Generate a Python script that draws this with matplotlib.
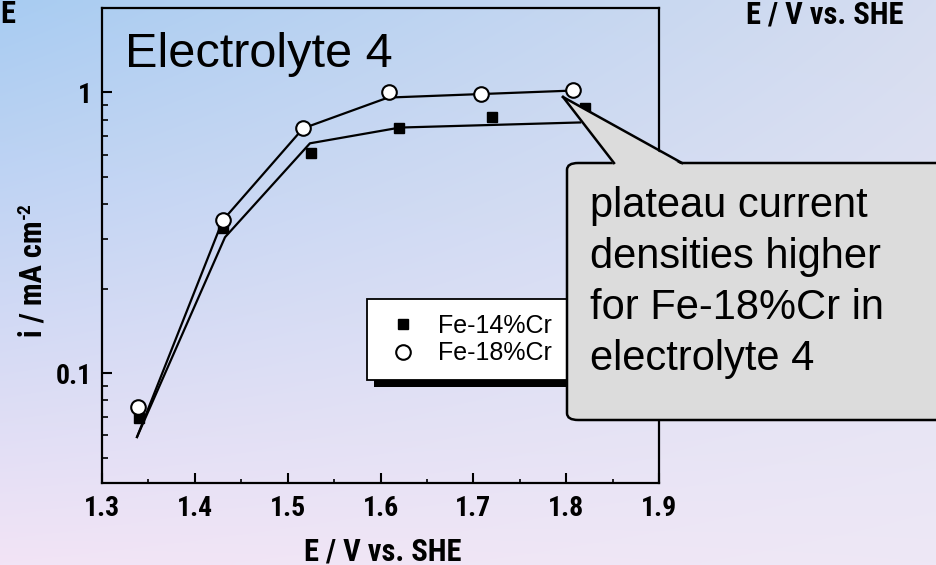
import os
import numpy as np
import matplotlib.pyplot as plt
from matplotlib import font_manager
from matplotlib.font_manager import FontProperties
from matplotlib.patches import FancyBboxPatch, Polygon
from matplotlib.lines import Line2D
import matplotlib.patheffects as pe
from matplotlib.ticker import LogLocator, NullFormatter, MultipleLocator

plt.rcParams['font.family'] = ['Liberation Sans', 'DejaVu Sans']

# look for a condensed bold face for the axis texts
wanted = ['LiberationSansNarrow-Bold', 'RobotoCondensed-Bold', 'DejaVuSansCondensed-Bold',
          'OpenSans_Condensed-Bold', 'OpenSansCondensed-Bold']
files = {os.path.splitext(os.path.basename(f.fname))[0]: f.fname for f in font_manager.fontManager.ttflist}
narrow_file = None
for w in wanted:
    if w in files:
        narrow_file = files[w]
        break
if narrow_file:
    nscale = 1.0
    def nfont(size):
        return FontProperties(fname=narrow_file, size=size)
else:
    nscale = 0.86
    def nfont(size):
        return FontProperties(family='Liberation Sans', weight='bold', size=size)

# measured points
e14 = [1.34, 1.43, 1.525, 1.62, 1.72, 1.82]
i14 = [0.069, 0.33, 0.61, 0.75, 0.815, 0.877]
e18 = [1.339, 1.43, 1.516, 1.609, 1.708, 1.807]
i18 = [0.0757, 0.35, 0.745, 1.0, 0.99, 1.02]

# fitted lines (polylines)
fit14_e = [1.3377, 1.4325, 1.524, 1.621, 1.815]
fit14_i = [0.0592, 0.305, 0.659, 0.75, 0.782]
fit18_e = [1.3377, 1.430, 1.5166, 1.608, 1.8075]
fit18_i = [0.0592, 0.350, 0.745, 0.959, 1.016]

xticks = [1.3, 1.4, 1.5, 1.6, 1.7, 1.8, 1.9]
yticks = [0.1, 1]
ytick_labels = ['0.1', '1']

note_lines = ['plateau current', 'densities higher', 'for Fe-18%Cr in', 'electrolyte 4']

W, H = 936, 565
fig = plt.figure(figsize=(W / 100, H / 100), dpi=100)

# gradient background
bg = fig.add_axes([0, 0, 1, 1], zorder=-5)
tl = np.array([168, 204, 242]) / 255
tr = np.array([214, 221, 240]) / 255
bl = np.array([242, 228, 246]) / 255
br = np.array([238, 232, 246]) / 255
u = np.linspace(0, 1, 200)[None, :, None]
v = np.linspace(0, 1, 120)[:, None, None]
img = (1 - v) * ((1 - u) * tl + u * tr) + v * ((1 - u) * bl + u * br)
bg.imshow(img, aspect='auto', extent=[0, 1, 0, 1], interpolation='bilinear')
bg.axis('off')

ax = fig.add_axes([102 / W, 1 - 483 / H, 557 / W, 475 / H])
ax.patch.set_alpha(0)

ax.plot(fit14_e, fit14_i, color='k', lw=1.6, zorder=3)
ax.plot(fit18_e, fit18_i, color='k', lw=1.6, zorder=3)
ax.plot(e14, i14, ls='none', marker='s', ms=7.5, mfc='k', mec='k', zorder=4, label='Fe-14%Cr')
ax.plot(e18, i18, ls='none', marker='o', ms=10.5, mfc='white', mec='k', mew=1.5, zorder=5, label='Fe-18%Cr')

ax.set_yscale('log')
ax.set_xlim(1.3, 1.9)
ax.set_ylim(0.0406, 2.0)
ax.set_xticks(xticks)
ax.set_xticklabels([f'{t:.1f}' for t in xticks])
ax.xaxis.set_minor_locator(MultipleLocator(0.05))
ax.set_yticks(yticks)
ax.set_yticklabels(ytick_labels)
ax.yaxis.set_minor_locator(LogLocator(base=10, subs=np.arange(2, 10)))
ax.yaxis.set_minor_formatter(NullFormatter())

for s in ax.spines.values():
    s.set_linewidth(1.6)
ax.tick_params(which='major', direction='in', length=7, width=1.5, pad=7)
ax.tick_params(axis='x', which='major', pad=9)
ax.tick_params(which='minor', direction='in', length=4, width=1.2)
ax.tick_params(axis='x', which='minor', length=3)
for lab in ax.get_xticklabels() + ax.get_yticklabels():
    lab.set_fontproperties(nfont(20 * nscale))

ax.set_xlabel('E / V vs. SHE', fontproperties=nfont(22 * nscale))
ax.xaxis.set_label_coords(0.504, -0.112)
ax.set_ylabel('i / mA cm', fontproperties=nfont(22 * nscale))
ax.yaxis.set_label_coords(-0.097, 0.43)

ax.text(125 / W, 1 - 67 / H, 'Electrolyte 4', transform=fig.transFigure, fontsize=35, va='baseline')

leg = ax.legend(loc='upper left', bbox_to_anchor=(0.476, 0.387), borderaxespad=0,
                fontsize=18, frameon=True, fancybox=False, edgecolor='k', framealpha=1,
                handletextpad=0.6, labelspacing=0.13, borderpad=0.6, handlelength=1.64)
leg.get_frame().set_linewidth(1.3)
leg.get_frame().set_path_effects([pe.SimplePatchShadow(offset=(5, -5), shadow_rgbFace='k', alpha=1), pe.Normal()])
leg.set_zorder(6)

# stray labels at the top
fig.text(0, 1 - 23 / H, 'E', fontproperties=nfont(22 * nscale), va='baseline', ha='left')
fig.text(825 / W, 1 - 23 / H, 'E / V vs. SHE', fontproperties=nfont(22 * nscale),
         va='baseline', ha='center')

def fx(px):
    return px / W

def fy(py):
    return 1 - py / H

# superscript "-2" after "cm" of the rotated y label
fig.canvas.draw()
lb = ax.yaxis.label.get_window_extent()
fig.text((lb.x1 - 14) / W, (lb.y1 + 1) / H, '-2', fontproperties=nfont(14 * nscale),
         rotation=90, ha='right', va='bottom')

# callout
box = FancyBboxPatch((fx(567), fy(420)), fx(960) - fx(567), fy(163) - fy(420),
                     boxstyle='round,pad=0,rounding_size=0.012', transform=fig.transFigure,
                     facecolor='#dcdcdc', edgecolor='k', lw=1.8, zorder=20, clip_on=False)
fig.patches.append(box)
tri = Polygon([(fx(563), fy(97)), (fx(614), fy(165)), (fx(682), fy(165))], closed=True,
              transform=fig.transFigure, facecolor='#dcdcdc', edgecolor='none', zorder=21)
fig.patches.append(tri)
for p0, p1 in [((563, 97), (614, 163)), ((563, 97), (682, 163))]:
    fig.add_artist(Line2D([fx(p0[0]), fx(p1[0])], [fy(p0[1]), fy(p1[1])],
                          transform=fig.transFigure, color='k', lw=1.8, zorder=22))

for k, line in enumerate(note_lines):
    fig.text(fx(590), fy(217 + 51 * k), line, fontsize=30, va='baseline', zorder=23)

fig.savefig('out.png', dpi=100)
